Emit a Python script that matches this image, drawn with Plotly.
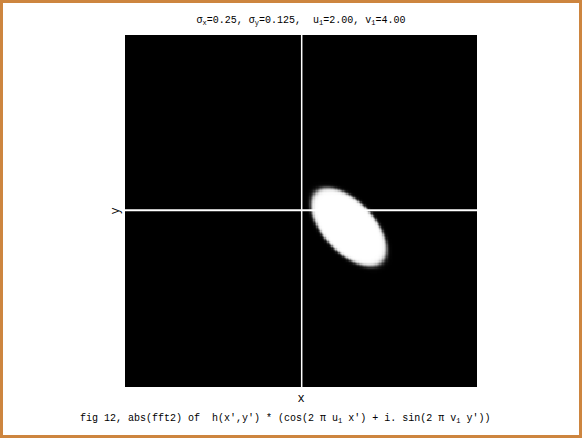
import numpy as np
import plotly.graph_objects as go

# frequency bins of the fft2 image (shifted so that 0 is in the middle)
fx = np.arange(-128, 128)
fy = np.arange(-128, 128)

# the bright lobe (in frequency bins)
lobe_center = [34.3, -12.2]
lobe_axes = [35.0, 18.5]      # semi-major, semi-minor
lobe_tilt_deg = -47.0
lobe_edge = 0.03

title_txt = ("σ<sub>x</sub>=0.25, σ<sub>y</sub>=0.125,  "
             "u<sub>1</sub>=2.00, v<sub>1</sub>=4.00")
caption_txt = ("fig 12, abs(fft2) of  h(x′,y′) * (cos(2 π u<sub>1</sub> x′) "
               "+ i. sin(2 π v<sub>1</sub> y′))")

X, Y = np.meshgrid(fx, fy)
t = np.deg2rad(lobe_tilt_deg)
dx = X - lobe_center[0]
dy = Y - lobe_center[1]
xr = dx * np.cos(t) + dy * np.sin(t)
yr = -dx * np.sin(t) + dy * np.cos(t)
d = np.sqrt((xr / lobe_axes[0]) ** 2 + (yr / lobe_axes[1]) ** 2)
z = 1.0 / (1.0 + np.exp((d - 1.0) / lobe_edge))

mono = "Liberation Mono, Courier New, monospace"

fig = go.Figure()
fig.add_trace(go.Heatmap(
    x=fx, y=fy, z=z,
    colorscale=[[0, "black"], [1, "white"]],
    zmin=0, zmax=1, showscale=False, hoverinfo="skip"))

# white cross through the origin
fig.add_vline(x=0, line=dict(color="white", width=1.5), layer="above")
fig.add_hline(y=0, line=dict(color="white", width=2), layer="above")

fig.update_layout(
    width=582, height=438,
    margin=dict(l=125, r=105, t=35, b=51),
    paper_bgcolor="white", plot_bgcolor="black",
    font=dict(family=mono, size=10, color="black"),
    title=dict(text=title_txt, x=0.5, xref="paper", xanchor="center",
               y=1 - 19 / 438, yref="container", yanchor="middle",
               font=dict(family=mono, size=10, color="black")),
    xaxis=dict(range=[-128.5, 127.5], showticklabels=False, ticks="",
               showgrid=False, zeroline=False,
               title=dict(text="x", standoff=6)),
    yaxis=dict(range=[-128.5, 127.5], showticklabels=False, ticks="",
               showgrid=False, zeroline=False,
               title=dict(text="y", standoff=1)),
    showlegend=False,
)

fig.add_annotation(text=caption_txt, xref="paper", yref="paper",
                   x=0.457, y=-0.0909, xanchor="center", yanchor="middle",
                   showarrow=False, font=dict(family=mono, size=10, color="black"))

# orange page frame
fig.add_shape(type="rect", xref="paper", yref="paper",
              x0=(1.5 - 125) / 352, x1=(580.5 - 125) / 352,
              y0=(387 - 436.5) / 352, y1=(387 - 1.5) / 352,
              line=dict(color="#CD853F", width=3), layer="above")

fig.write_html("out.html", config={"displayModeBar": False},
               post_script="document.body.style.margin='0';document.body.style.overflow='hidden';")
